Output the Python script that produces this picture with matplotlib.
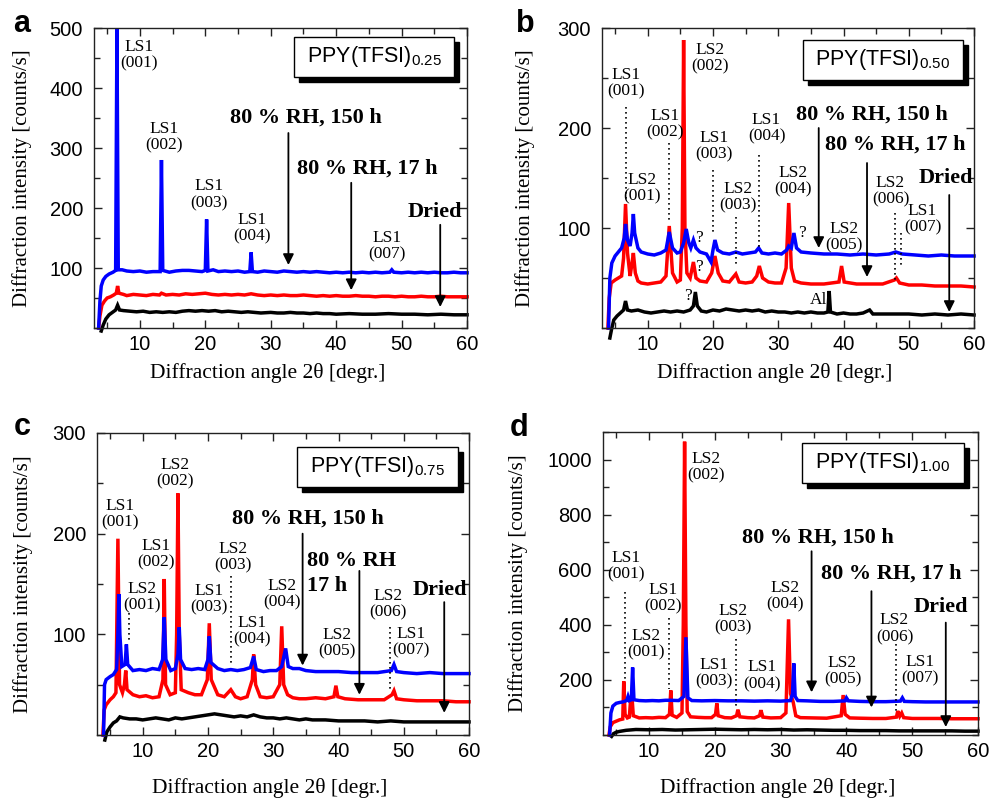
import matplotlib
matplotlib.use('Agg')
import matplotlib.pyplot as plt
from matplotlib.patches import Rectangle
from matplotlib.ticker import MultipleLocator

plt.rcParams['mathtext.fontset'] = 'custom'
plt.rcParams['mathtext.rm'] = 'Liberation Sans'
plt.rcParams['mathtext.it'] = 'Liberation Sans:italic'
plt.rcParams['mathtext.bf'] = 'Liberation Sans:bold'
SANS = 'Liberation Sans'
SERIF = 'Liberation Serif'

# ---------------- data (2theta, counts/s) ----------------
a_blue = [(3.7, 0), (3.9, 45), (4.1, 70), (4.4, 80), (4.8, 86), (5.3, 90), (5.9, 93), (6.3, 96), (6.5, 498),
          (6.7, 97), (7.3, 97), (8, 95), (9, 94), (10, 95), (11, 93), (12, 94), (13.1, 94), (13.3, 280),
          (13.5, 96), (14.5, 93), (15.5, 95), (16.5, 96), (17.5, 96), (18.5, 95), (19.5, 94), (20.0, 96),
          (20.2, 181), (20.4, 95), (21.2, 97), (22, 94), (23, 95), (24, 94), (25, 95), (26, 93), (26.8, 94),
          (27.0, 126), (27.2, 94), (28, 93), (29, 95), (30, 94), (31, 93), (32, 95), (33, 94), (34, 93),
          (35, 94), (36, 93), (37, 94), (38, 93), (39, 92), (40, 93), (41, 92), (42, 93), (43, 92), (44, 93),
          (45, 92), (46, 93), (47, 92), (48.2, 93), (48.5, 97), (48.8, 93), (50, 92), (51, 93), (52, 92),
          (53, 93), (54, 92), (55, 93), (56, 92), (57, 92), (58, 93), (59, 92), (60, 92)]
a_red = [(3.7, 0), (3.9, 20), (4.2, 38), (4.6, 45), (5.0, 50), (5.5, 52), (6.0, 55), (6.4, 58), (6.6, 70),
         (6.8, 58), (7.5, 56), (8, 54), (9, 56), (10, 55), (11, 54), (12, 56), (13, 55), (13.3, 58), (14, 55),
         (15, 56), (16, 55), (17, 57), (18, 56), (19, 57), (20, 58), (21, 56), (22, 55), (23, 56), (24, 55),
         (25, 56), (26, 55), (27, 57), (28, 55), (29, 54), (30, 55), (31, 54), (32, 55), (33, 54), (34, 54),
         (35, 55), (36, 54), (37, 53), (38, 54), (39, 53), (40, 54), (41, 53), (42, 53), (43, 54), (44, 53),
         (45, 53), (46, 52), (47, 53), (48, 53), (49, 52), (50, 53), (51, 52), (52, 52), (53, 53), (54, 52),
         (55, 52), (56, 53), (57, 52), (58, 52), (59, 52), (60, 52)]
a_black = [(4.1, -5), (4.4, 5), (4.8, 15), (5.3, 22), (5.8, 26), (6.3, 30), (6.6, 38), (6.9, 30), (7.5, 29),
           (8.5, 28), (9.5, 27), (10.5, 28), (11.5, 26), (12.5, 27), (13.5, 26), (14.5, 27), (15.5, 26),
           (16.5, 28), (17.5, 29), (18.5, 28), (19.5, 29), (20.5, 28), (21.5, 29), (22.5, 27), (23.5, 28),
           (24.5, 27), (25.5, 26), (26.5, 27), (27.5, 26), (28.5, 25), (30, 26), (31, 25), (32, 25), (33, 26),
           (34, 25), (35, 25), (36, 24), (37, 25), (38, 24), (39, 24), (40, 23), (42, 24), (44, 23), (46, 23),
           (48, 24), (50, 23), (52, 23), (54, 22), (56, 23), (58, 22), (60, 22)]

b_blue = [(4.0, 0), (4.2, 50), (4.5, 65), (5.0, 72), (5.5, 76), (6.0, 80), (6.4, 90), (6.6, 104), (6.9, 88),
          (7.3, 82), (7.6, 95), (7.8, 114), (8.0, 95), (8.5, 80), (9, 76), (10, 74), (11, 73), (12, 75),
          (12.8, 78), (13.3, 96), (13.8, 80), (14.5, 75), (15.0, 76), (15.5, 85), (15.9, 99), (16.3, 85),
          (16.6, 80), (17.0, 88), (17.4, 80), (18, 76), (19, 74), (19.7, 66), (20.0, 78), (20.3, 88), (20.7, 78),
          (21.5, 75), (22.5, 74), (23.5, 76), (24.5, 74), (25.5, 75), (26.5, 76), (27.0, 80), (27.5, 75),
          (28.5, 74), (29.5, 75), (30.5, 74), (31.3, 78), (31.6, 82), (32.0, 80), (32.4, 95), (32.8, 80),
          (33.5, 76), (35, 75), (37, 74), (39, 74), (41, 73), (43, 74), (45, 73), (47, 74), (48, 76), (49, 74),
          (51, 73), (53, 72), (55, 73), (57, 72), (60, 72)]
b_red = [(3.9, 0), (4.1, 30), (4.4, 45), (5.0, 48), (5.5, 50), (6.0, 52), (6.3, 70), (6.6, 124), (6.9, 75),
         (7.3, 52), (7.6, 65), (7.8, 75), (8.1, 55), (8.5, 47), (9, 45), (10, 44), (11, 45), (12, 46),
         (12.8, 52), (13.3, 102), (13.8, 55), (14.5, 46), (15.0, 48), (15.3, 100), (15.5, 288), (15.7, 100),
         (16.0, 55), (16.5, 50), (17.0, 66), (17.4, 50), (18, 47), (19, 46), (19.8, 55), (20.3, 72), (20.8, 55),
         (21.5, 47), (22.5, 46), (23.5, 54), (24, 46), (25, 45), (26, 46), (26.7, 52), (27.1, 62), (27.6, 50),
         (28.5, 46), (29.5, 45), (30.5, 45), (31.2, 60), (31.6, 125), (32.0, 60), (32.5, 47), (33.5, 45),
         (35, 44), (37, 44), (39.3, 46), (39.7, 62), (40.1, 46), (42, 44), (44, 44), (46, 44), (47.8, 48),
         (48.1, 50), (48.6, 45), (50, 43), (52, 43), (54, 42), (56, 42), (58, 42), (60, 41)]
b_black = [(4.2, -10), (4.5, 0), (4.8, 8), (5.3, 12), (5.8, 15), (6.3, 18), (6.6, 27), (6.9, 18), (7.5, 17),
           (8.5, 18), (9.5, 16), (10.5, 15), (11.5, 16), (12.5, 17), (13.5, 16), (14.5, 17), (15.5, 16),
           (16.5, 18), (17.0, 22), (17.3, 36), (17.6, 22), (18.2, 17), (19, 16), (20, 18), (21, 17), (22, 19),
           (23, 18), (24, 17), (25, 18), (26, 17), (27, 18), (28, 16), (29, 17), (30, 16), (31, 16), (32, 15),
           (33, 16), (34, 15), (35, 16), (36, 15), (37, 15), (37.6, 16), (37.8, 37), (38.0, 16), (39, 14),
           (40, 15), (41, 14), (42, 14), (43, 15), (44, 18), (44.5, 14), (46, 14), (48, 14), (50, 14),
           (52, 13), (54, 14), (56, 13), (58, 14), (60, 13)]

c_blue = [(4.0, 0), (4.15, 50), (4.4, 55), (5.0, 58), (5.5, 60), (6.0, 65), (6.2, 100), (6.35, 140), (6.5, 100),
          (6.8, 68), (7.3, 70), (7.5, 90), (7.7, 70), (8.5, 64), (9.5, 65), (10.5, 64), (11.5, 66), (12.5, 65),
          (13.05, 75), (13.3, 117), (13.55, 75), (14.3, 64), (15.0, 66), (15.4, 80), (15.6, 107), (15.8, 75),
          (16.5, 66), (17.5, 65), (18.5, 66), (19.5, 65), (20.0, 75), (20.2, 98), (20.45, 72), (21.5, 66),
          (22.5, 64), (23.5, 65), (24.5, 64), (25.5, 65), (26.5, 67), (27.0, 78), (27.4, 65), (28.5, 63),
          (29.5, 64), (30.5, 64), (31.3, 68), (31.9, 86), (32.3, 68), (33, 66), (34, 66), (35, 64), (36.5, 63),
          (38, 63), (40, 63), (42, 62), (44, 62), (46, 62), (48.1, 64), (48.5, 70), (48.9, 63), (50, 62),
          (52, 61), (54, 62), (56, 61), (58, 61), (60, 61)]
c_red = [(3.9, 0), (4.1, 25), (4.4, 30), (5.0, 35), (5.5, 38), (5.9, 42), (6.2, 195), (6.45, 50), (6.9, 42),
         (7.2, 50), (7.4, 64), (7.6, 45), (8.5, 40), (9.5, 38), (10.5, 39), (11.5, 37), (12.5, 38), (13.1, 55),
         (13.3, 155), (13.5, 50), (14.2, 40), (15.0, 42), (15.2, 100), (15.4, 240), (15.6, 100), (15.9, 45),
         (17, 42), (18, 40), (19, 40), (19.9, 55), (20.2, 111), (20.5, 55), (21.5, 40), (22.5, 38), (23.5, 45),
         (24.2, 38), (25, 36), (26, 38), (26.8, 55), (27.0, 80), (27.3, 50), (28, 38), (29, 37), (30, 38),
         (31.0, 50), (31.3, 108), (31.6, 50), (32.2, 40), (33, 37), (34, 36), (35, 36), (36.5, 37), (38, 36),
         (39.3, 38), (39.6, 49), (39.9, 38), (41, 36), (43, 35), (45, 35), (47, 35), (48.2, 40), (48.5, 44),
         (48.9, 36), (50, 35), (52, 34), (54, 34), (56, 34), (58, 33), (60, 33)]
c_black = [(4.2, -5), (4.5, 3), (5.0, 8), (5.5, 12), (6.0, 14), (6.5, 18), (7, 17), (8, 16), (9, 16), (10, 15),
           (11, 16), (12, 17), (13, 16), (14, 15), (15, 17), (16, 16), (17, 17), (18, 18), (19, 19), (20, 20),
           (21, 21), (22, 20), (23, 19), (24, 18), (25, 19), (26, 18), (27, 20), (28, 18), (29, 17), (30, 17),
           (31, 16), (32, 17), (33, 16), (34, 15), (35, 16), (36, 15), (38, 15), (40, 14), (42, 14), (44, 14),
           (46, 13), (48, 14), (50, 13), (52, 13), (54, 13), (56, 13), (58, 13), (60, 13)]

d_blue = [(4.0, 0), (4.2, 80), (4.5, 105), (5.0, 115), (5.5, 118), (6.0, 120), (6.6, 125), (6.8, 140), (7.0, 125),
          (7.3, 128), (7.5, 245), (7.7, 128), (8.5, 125), (9.5, 124), (10.5, 125), (11.5, 124), (12.5, 126),
          (13.3, 126), (14.5, 125), (15.3, 140), (15.6, 355), (15.9, 135), (16.5, 125), (18, 124), (20, 125),
          (22, 124), (24, 124), (26, 123), (28, 124), (30, 123), (31.5, 125), (31.8, 150), (32.0, 260),
          (32.2, 140), (32.6, 125), (34, 124), (36, 122), (38, 122), (39.8, 124), (40.0, 135), (40.3, 124),
          (42, 122), (44, 121), (46, 121), (48.2, 123), (48.5, 135), (48.8, 122), (50, 121), (52, 120),
          (54, 120), (56, 120), (58, 120), (60, 120)]
d_red = [(3.9, 0), (4.1, 30), (4.5, 45), (5.0, 50), (5.5, 55), (6.0, 58), (6.15, 195), (6.35, 75), (6.7, 62),
         (7.0, 65), (7.2, 130), (7.4, 140), (7.6, 70), (8.5, 62), (9.5, 63), (10.5, 62), (11.5, 64), (12.5, 63),
         (13.1, 75), (13.3, 162), (13.5, 72), (14.2, 64), (15.0, 80), (15.2, 400), (15.4, 1065), (15.6, 400),
         (15.8, 85), (16.3, 66), (17.5, 64), (18.5, 63), (19.5, 63), (20.1, 75), (20.3, 115), (20.5, 70),
         (21.5, 63), (22.5, 62), (23.3, 70), (23.5, 92), (23.8, 66), (25, 63), (26, 62), (26.8, 70), (27.0, 90),
         (27.3, 65), (28.5, 62), (30, 63), (30.8, 80), (31.2, 420), (31.5, 150), (31.9, 120), (32.3, 70),
         (33, 63), (35, 62), (37, 61), (39.2, 70), (39.5, 145), (39.8, 75), (40.5, 62), (42, 61), (44, 60),
         (46, 60), (47.6, 65), (47.8, 87), (48.1, 68), (48.4, 80), (48.7, 63), (50, 60), (52, 60), (54, 60),
         (56, 59), (58, 59), (60, 59)]
d_black = [(4.3, -5), (4.6, 5), (5.0, 10), (5.5, 13), (6.5, 17), (8, 20), (10, 19), (12, 20), (14, 18), (16, 19),
           (18, 20), (20, 21), (22, 20), (24, 19), (26, 20), (28, 19), (30, 20), (32, 18), (34, 19), (36, 18),
           (38, 17), (40, 17), (42, 16), (44, 16), (46, 16), (48, 15), (50, 15), (52, 15), (54, 15), (56, 15),
           (58, 14), (60, 14)]

compositions = ['0.25', '0.50', '0.75', '1.00']
panel_letters = ['a', 'b', 'c', 'd']
x_tick_values = [10, 20, 30, 40, 50, 60]

# ---------------- layout / annotations ----------------
panels = [
    dict(series=(a_black, a_red, a_blue), rect=[0.0949, 0.590, 0.3764, 0.375], ylim=(0, 500), ymaj=100, ymin=50,
         box=(0.536, 0.837, 0.965, 0.970), ylab=-0.193, xlab=(0.466, -0.15), letter=(22, 32),
         labels=[('LS1\n(001)', 9.8, 455), ('LS1\n(002)', 13.7, 318), ('LS1\n(003)', 20.6, 222),
                 ('LS1\n(004)', 27.2, 167), ('LS1\n(007)', 47.7, 137)],
         small=[],
         bold=[('80 % RH, 150 h', 35.4, 350, 'center'), ('80 % RH, 17 h', 44.8, 265, 'center'),
               ('Dried', 55.1, 193, 'center')],
         arrows=[(32.7, 325, 105), (42.3, 242, 63), (55.9, 172, 35)],
         dots=[]),
    dict(series=(b_black, b_red, b_blue), rect=[0.6075, 0.590, 0.3754, 0.375], ylim=(0, 300), ymaj=100, ymin=50,
         box=(0.540, 0.827, 0.970, 0.960), ylab=-0.207, xlab=(0.465, -0.15), letter=(525, 32),
         labels=[('LS1\n(001)', 6.7, 245), ('LS2\n(001)', 9.2, 140), ('LS1\n(002)', 12.6, 204),
                 ('LS2\n(002)', 19.5, 270), ('LS1\n(003)', 20.1, 182), ('LS2\n(003)', 23.8, 131),
                 ('LS1\n(004)', 28.2, 200), ('LS2\n(004)', 32.2, 147), ('LS2\n(005)', 40.0, 91),
                 ('LS2\n(006)', 47.2, 137), ('LS1\n(007)', 52.1, 109)],
         small=[('?', 17.8, 90), ('?', 17.8, 61), ('?', 16.1, 32), ('?', 33.6, 95), ('Al', 36.2, 28)],
         bold=[('80 % RH, 150 h', 44.4, 213, 'center'), ('80 % RH, 17 h', 47.9, 183, 'center'),
               ('Dried', 55.7, 150, 'center')],
         arrows=[(36.2, 200, 80), (43.6, 165, 51), (56.2, 133, 16)],
         dots=[(6.6, 221, 128), (13.3, 185, 108), (20.0, 158, 95), (23.5, 111, 61), (27.0, 173, 81),
               (47.9, 115, 48), (48.8, 95, 61)]),
    dict(series=(c_black, c_red, c_blue), rect=[0.0979, 0.08125, 0.3754, 0.3775], ylim=(0, 300), ymaj=100, ymin=50,
         box=(0.538, 0.821, 0.970, 0.954), ylab=-0.199, xlab=(0.465, -0.175), letter=(22, 435),
         labels=[('LS1\n(001)', 6.5, 219), ('LS2\n(001)', 9.9, 137), ('LS1\n(002)', 12.1, 180),
                 ('LS2\n(002)', 15.0, 260), ('LS1\n(003)', 20.1, 135), ('LS2\n(003)', 23.9, 177),
                 ('LS1\n(004)', 26.8, 103), ('LS2\n(004)', 31.4, 140), ('LS2\n(005)', 39.8, 91),
                 ('LS2\n(006)', 47.6, 130), ('LS1\n(007)', 51.1, 92)],
         small=[],
         bold=[('80 % RH, 150 h', 35.3, 215, 'center'), ('80 % RH', 35.1, 173, 'left'),
               ('17 h', 35.1, 148, 'left'), ('Dried', 55.5, 144, 'center')],
         arrows=[(34.5, 200, 69), (43.2, 163, 40), (56.2, 132, 22)],
         dots=[(7.9, 121, 91), (23.5, 158, 71), (47.9, 107, 44)]),
    dict(series=(d_black, d_red, d_blue), rect=[0.6085, 0.08125, 0.3784, 0.37875], ylim=(0, 1100), ymaj=200, ymin=100,
         box=(0.530, 0.832, 0.963, 0.964), ylab=-0.227, xlab=(0.467, -0.175), letter=(519, 436),
         labels=[('LS1\n(001)', 6.5, 613), ('LS2\n(001)', 9.5, 329), ('LS1\n(002)', 12.1, 496),
                 ('LS2\n(002)', 18.7, 971), ('LS1\n(003)', 19.9, 224), ('LS2\n(003)', 22.8, 420),
                 ('LS1\n(004)', 27.1, 215), ('LS2\n(004)', 30.7, 504), ('LS2\n(005)', 39.4, 233),
                 ('LS2\n(006)', 47.3, 386), ('LS1\n(007)', 51.2, 235)],
         small=[],
         bold=[('80 % RH, 150 h', 35.6, 718, 'center'), ('80 % RH, 17 h', 46.8, 585, 'center'),
               ('Dried', 54.4, 464, 'center')],
         arrows=[(34.7, 667, 155), (43.8, 522, 100), (55.1, 408, 29)],
         dots=[(6.3, 519, 203), (13.1, 426, 167), (23.2, 350, 106), (47.5, 329, 88)]),
]

colors = ['black', '#ff0000', '#0000ff']

W, H = 991, 800
fig = plt.figure(figsize=(W / 100, H / 100), dpi=100)

for p, comp, letter in zip(panels, compositions, panel_letters):
    ax = fig.add_axes(p['rect'])
    for ser, col in zip(p['series'], colors):
        xs = [q[0] for q in ser]
        ys = [q[1] for q in ser]
        ax.plot(xs, ys, color=col, lw=2.5, clip_on=False, zorder=2, solid_joinstyle='miter')
    ax.set_xlim(3, 60)
    ax.set_ylim(*p['ylim'])
    ax.xaxis.set_minor_locator(MultipleLocator(5))
    ax.yaxis.set_minor_locator(MultipleLocator(p['ymin']))
    ax.tick_params(which='both', direction='in', top=True, right=True, color='#222222', width=1.0)
    ax.tick_params(which='major', length=6)
    ax.tick_params(which='minor', length=4)
    ax.tick_params(axis='x', pad=5)
    ax.tick_params(axis='y', pad=8)
    ax.set_xticks(x_tick_values)
    ax.set_xticklabels([str(v) for v in x_tick_values], fontfamily=SANS, fontsize=14.5)
    yt = list(range(p['ymaj'], p['ylim'][1] + 1, p['ymaj']))
    ax.set_yticks(yt)
    ax.set_yticklabels([str(v) for v in yt], fontfamily=SANS, fontsize=14.5)
    for sp in ax.spines.values():
        sp.set_linewidth(1.0)
        sp.set_color('#222222')

    ax.set_xlabel('Diffraction angle 2θ [degr.]', fontfamily=SERIF, fontsize=15.5)
    ax.xaxis.set_label_coords(*p['xlab'])
    ax.xaxis.label.set_va('center')
    ax.set_ylabel('Diffraction intensity [counts/s]', fontfamily=SERIF, fontsize=15)
    ax.yaxis.set_label_coords(p['ylab'], 0.5)
    ax.yaxis.label.set_va('center')

    for txt, x, y in p['labels']:
        ax.text(x, y, txt, ha='center', va='center', fontfamily=SERIF, fontsize=12.5,
                linespacing=1.05, zorder=4)
    for txt, x, y in p['small']:
        ax.text(x, y, txt, ha='center', va='center', fontfamily=SERIF, fontsize=12.5, zorder=4)
    for txt, x, y, ha in p['bold']:
        ax.text(x, y, txt, ha=ha, va='center', fontfamily=SERIF, fontsize=16, fontweight='bold', zorder=4)
    for x, y0, y1 in p['arrows']:
        ax.annotate('', xy=(x, y1), xytext=(x, y0),
                    arrowprops=dict(arrowstyle='-|>', color='k', lw=1.3, mutation_scale=16,
                                    shrinkA=0, shrinkB=0), zorder=4)
    for x, y0, y1 in p['dots']:
        ax.plot([x, x], [y0, y1], ls=(0, (1, 2)), color='k', lw=1.2, zorder=3)

    x0, y0b, x1, y1b = p['box']
    bw = ax.get_position().width * W
    bh = ax.get_position().height * H
    dx, dy = 5 / bw, 5 / bh
    ax.add_patch(Rectangle((x0 + dx, y0b - dy), x1 - x0, y1b - y0b, transform=ax.transAxes,
                           facecolor='black', edgecolor='black', zorder=5, clip_on=False))
    ax.add_patch(Rectangle((x0, y0b), x1 - x0, y1b - y0b, transform=ax.transAxes,
                           facecolor='white', edgecolor='black', lw=1.0, zorder=6, clip_on=False))
    ax.text((x0 + x1) / 2, (y0b + y1b) / 2, 'PPY(TFSI)$_{' + comp + '}$', transform=ax.transAxes,
            ha='center', va='center', fontfamily=SANS, fontsize=15.5, zorder=7)

    fig.text(p['letter'][0] / W, 1 - p['letter'][1] / H, letter, ha='center', va='baseline',
             fontfamily=SANS, fontweight='bold', fontsize=22)

fig.savefig('out.png', dpi=100)
